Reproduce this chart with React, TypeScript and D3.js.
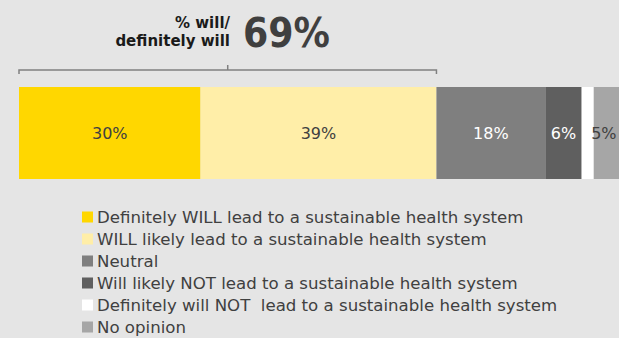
import React from "react";
import * as d3 from "d3";

const categories = [
  "Definitely WILL lead to a sustainable health system",
  "WILL likely lead to a sustainable health system",
  "Neutral",
  "Will likely NOT lead to a sustainable health system",
  "Definitely will NOT  lead to a sustainable health system",
  "No opinion",
];
const values = [30, 39, 18, 6, 2, 5];
const labels = ["30%", "39%", "18%", "6%", "", "5%"];
const colors = ["#ffd700", "#ffeea8", "#7f7f7f", "#5f5f5f", "#ffffff", "#a6a6a6"];
const labelColors = ["#404040", "#404040", "#ffffff", "#ffffff", "#404040", "#404040"];
const headline = "69%";

const W = 619;
const H = 338;

export default function App() {
  const x = d3.scaleLinear().domain([0, 100]).range([19, 19 + 605]);
  const starts = d3.cumsum([0, ...values]);
  const barTop = 87;
  const barH = 92;
  const bracketEnd = x(values[0] + values[1]);
  const fontLeg = "'DejaVu Sans', sans-serif";
  return (
    <div style={{ position: "fixed", left: 0, top: 0 }}>
      <svg width={W} height={H} style={{ display: "block", background: "#e5e5e5" }}>
        <text x={230} y={28} textAnchor="end" fontFamily={fontLeg} fontWeight="bold" fontSize={15} fill="#1a1a1a">% will/</text>
        <text x={230} y={46} textAnchor="end" fontFamily={fontLeg} fontWeight="bold" fontSize={15} fill="#1a1a1a">definitely will</text>
        <text x={243} y={47} fontFamily={fontLeg} fontWeight="bold" fontSize={40} fill="#3f3f3f" textLength={87} lengthAdjust="spacingAndGlyphs">{headline}</text>
        <path
          d={`M${x(0)},74 V70 H${bracketEnd} V74 M${(x(0) + bracketEnd) / 2},70 V65`}
          fill="none"
          stroke="#808080"
          strokeWidth={1.5}
        />
        {values.map((v, i) => (
          <rect key={i} x={x(starts[i])} y={barTop} width={x(starts[i] + v) - x(starts[i])} height={barH} fill={colors[i]} />
        ))}
        {values.map((v, i) => {
          const a = x(starts[i]);
          const b = Math.min(x(starts[i] + v), W - 5);
          return labels[i] ? (
            <text key={i} x={(a + b) / 2} y={barTop + barH / 2} dy="0.35em" textAnchor="middle" fontFamily={fontLeg} fontSize={16} fill={labelColors[i]}>
              {labels[i]}
            </text>
          ) : null;
        })}
        {categories.map((c, i) => (
          <g key={i} transform={`translate(82,${217 + i * 22})`}>
            <rect x={0} y={-5.5} width={11} height={11} fill={colors[i]} />
            <text x={15} y={0} dy="0.35em" fontFamily={fontLeg} fontSize={16.6} fill="#404040" style={{ whiteSpace: "pre" }}>
              {c}
            </text>
          </g>
        ))}
      </svg>
    </div>
  );
}
